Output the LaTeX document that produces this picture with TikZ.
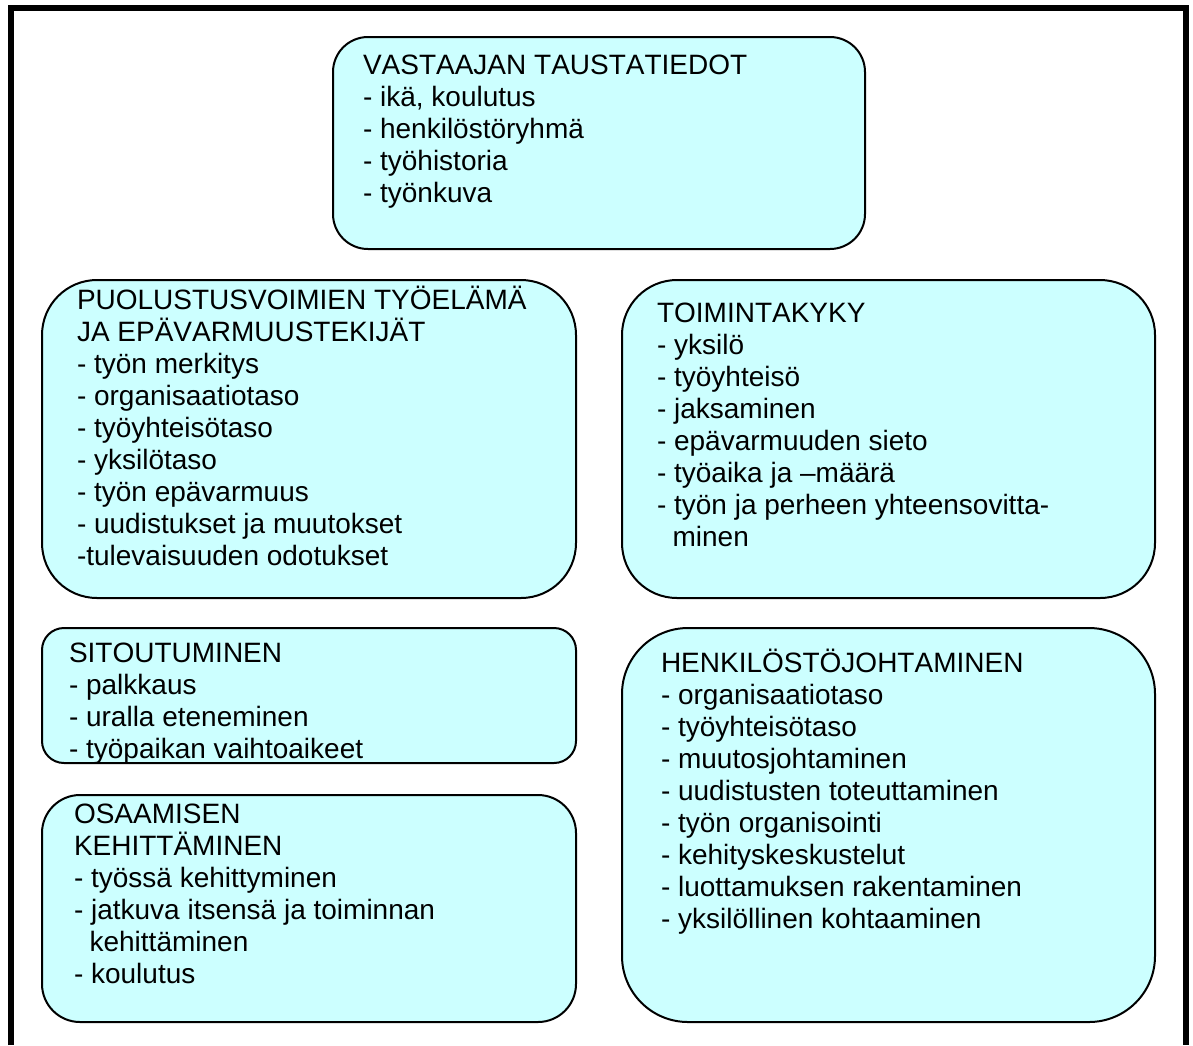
\documentclass[tikz,border=0pt]{standalone}
\usepackage{fontspec}
\setmainfont{Liberation Sans}[Kerning=Off]
\definecolor{boxfill}{HTML}{CCFFFF}
\begin{document}
\begin{tikzpicture}[x=1pt,y=-1pt,
  box/.style={draw=black, line width=2pt, fill=boxfill, inner sep=0pt, outer sep=0pt},
  txt/.style={anchor=north west, inner sep=0pt, outer sep=0pt, align=left,
              font=\fontsize{28}{32}\selectfont}]
\useasboundingbox (0,0) rectangle (1193,1045);
\fill[white] (0,0) rectangle (1193,1045);
\draw[line width=6pt] (11,1045) -- (11,8) -- (1185.5,8) -- (1185.5,1045);

% boxes
\node[box, rounded corners=35pt, minimum width=532pt, minimum height=212pt] (b1) at (599,143) {};
\node[box, rounded corners=55pt, minimum width=534pt, minimum height=318pt] (b2) at (309,439) {};
\node[box, rounded corners=55pt, minimum width=533pt, minimum height=318pt] (b3) at (888.5,439) {};
\node[box, rounded corners=22pt, minimum width=534pt, minimum height=135pt] (b4) at (309,695.5) {};
\node[box, rounded corners=38pt, minimum width=534pt, minimum height=227pt] (b5) at (309,908.5) {};
\node[box, rounded corners=66pt, minimum width=533pt, minimum height=394pt] (b6) at (888.5,825) {};

% texts
\node[txt] (t1) at (363,46) {\rule{0pt}{28pt}VASTAAJAN TAUSTATIEDOT\\
- ikä, koulutus\\
- henkilöstöryhmä\\
- työhistoria\\
- työnkuva};

\node[txt] (t2) at (77,281) {\rule{0pt}{28pt}PUOLUSTUSVOIMIEN TYÖELÄMÄ\\
JA EPÄVARMUUSTEKIJÄT\\
- työn merkitys\\
- organisaatiotaso\\
- työyhteisötaso\\
- yksilötaso\\
- työn epävarmuus\\
- uudistukset ja muutokset\\
-tulevaisuuden odotukset};

\node[txt] (t3) at (657,294) {\rule{0pt}{28pt}TOIMINTAKYKY\\
- yksilö\\
- työyhteisö\\
- jaksaminen\\
- epävarmuuden sieto\\
- työaika ja –määrä\\
- työn ja perheen yhteensovitta-\\
\hspace*{15.6pt}minen};

\node[txt] (t4) at (69,634) {\rule{0pt}{28pt}SITOUTUMINEN\\
- palkkaus\\
- uralla eteneminen\\
- työpaikan vaihtoaikeet};

\node[txt] (t5) at (74,795) {\rule{0pt}{28pt}OSAAMISEN\\
KEHITTÄMINEN\\
- työssä kehittyminen\\
- jatkuva itsensä ja toiminnan\\
\hspace*{15.6pt}kehittäminen\\
- koulutus};

\node[txt] (t6) at (661,644) {\rule{0pt}{28pt}HENKILÖSTÖJOHTAMINEN\\
- organisaatiotaso\\
- työyhteisötaso\\
- muutosjohtaminen\\
- uudistusten toteuttaminen\\
- työn organisointi\\
- kehityskeskustelut\\
- luottamuksen rakentaminen\\
- yksilöllinen kohtaaminen};
\end{tikzpicture}
\end{document}
